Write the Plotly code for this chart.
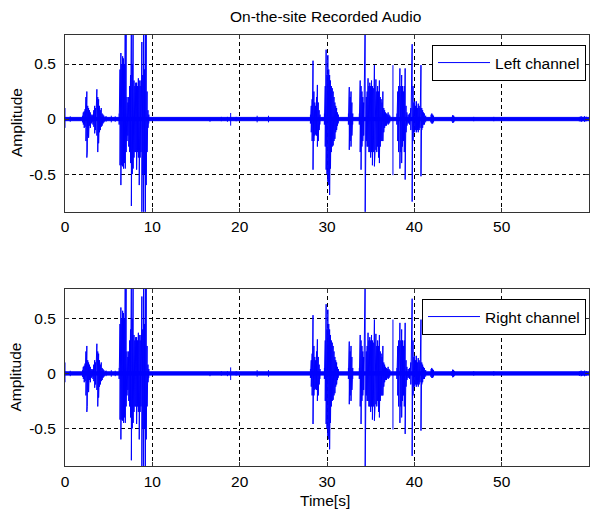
import plotly.graph_objects as go

# ---- data ----------------------------------------------------------------
# envelope of the waveform: time [s], upper peak and lower peak per time slot
TIME = [
    0.0, 0.6,
    2.0, 2.1, 2.2, 2.3, 2.4, 2.5, 2.55, 2.6, 2.7, 2.8, 2.9, 3.0, 3.1,
    3.2, 3.3, 3.4, 3.5, 3.65, 3.75, 3.85, 3.95, 4.05, 4.15, 4.25, 4.35, 4.45,
    4.7, 5.3, 5.75,
    6.2, 6.3, 6.4, 6.5, 6.6, 6.7, 6.8, 6.9, 7.0, 7.1, 7.2, 7.3, 7.4, 7.5,
    7.6, 7.7, 7.8, 7.9, 8.0, 8.1, 8.2, 8.3, 8.4, 8.5, 8.6, 8.7, 8.8, 8.9,
    9.0, 9.1, 9.2, 9.3, 9.4, 9.5, 9.6,
    16.6, 17.9, 18.6, 18.97, 19.6, 22.0, 23.3,
    28.1, 28.2, 28.3, 28.4, 28.5, 28.6, 28.7, 28.8, 28.9, 29.0, 29.1, 29.2,
    29.7, 29.8, 29.9, 30.0, 30.1, 30.2, 30.3, 30.4, 30.5, 30.6, 30.7, 30.8,
    30.9, 31.0, 31.1, 31.2, 31.3,
    32.45, 32.55, 32.65, 32.75, 32.85, 32.95,
    33.7, 33.8, 33.9, 34.0, 34.1, 34.2, 34.37, 34.5, 34.6, 34.7, 34.8, 34.9,
    35.0, 35.1, 35.2, 35.3, 35.43, 35.5, 35.6, 35.7, 35.8, 35.9, 36.0, 36.1,
    36.2, 36.3, 36.4, 36.5, 36.6, 36.7, 36.8, 36.9, 37.0, 37.1, 37.2,
    37.55,
    38.0, 38.1, 38.2, 38.35, 38.45, 38.55, 38.65, 38.75, 38.85, 38.95, 39.05,
    39.15, 39.3, 39.45, 39.6, 39.75, 39.85, 39.95, 40.05, 40.15, 40.25, 40.35,
    40.45, 40.55, 40.65, 40.76, 40.85, 40.95, 41.05, 41.15, 41.3,
    41.9, 42.0, 42.1, 42.2,
    44.3, 44.4, 44.5, 44.6,
    46.8, 49.1,
    58.9, 59.1, 59.3, 59.5, 59.7,
]
LEFT_UPPER = [
    0.10, 0.025,
    0.03, 0.06, 0.07, 0.09, 0.20, 0.25, 0.24, 0.12, 0.10, 0.08, 0.06, 0.04, 0.03,
    0.04, 0.08, 0.12, 0.10, 0.27, 0.20, 0.18, 0.12, 0.08, 0.10, 0.05, 0.04, 0.03,
    0.025, 0.03, 0.025,
    0.05, 0.45, 0.60, 0.50, 0.57, 0.55, 0.50, 0.90, 0.90, 0.20, 0.15, 0.20, 0.30, 0.40,
    0.90, 0.50, 0.90, 0.35, 0.30, 0.33, 0.33, 0.30, 0.37, 0.35, 0.30, 0.35, 0.70, 0.40,
    0.90, 0.45, 0.90, 0.90, 0.25, 0.08, 0.04,
    0.01, 0.02, 0.02, 0.055, 0.02, 0.03, 0.03,
    0.04, 0.12, 0.18, 0.53, 0.25, 0.15, 0.12, 0.20, 0.31, 0.15, 0.08, 0.04,
    0.05, 0.30, 0.63, 0.40, 0.58, 0.45, 0.40, 0.35, 0.30, 0.28, 0.25, 0.20,
    0.15, 0.12, 0.10, 0.06, 0.04,
    0.05, 0.29, 0.20, 0.25, 0.15, 0.05,
    0.05, 0.35, 0.30, 0.25, 0.20, 0.15, 0.90, 0.20, 0.25, 0.37, 0.30, 0.33,
    0.30, 0.35, 0.30, 0.28, 0.49, 0.30, 0.36, 0.25, 0.30, 0.25, 0.35, 0.20,
    0.18, 0.15, 0.25, 0.10, 0.08, 0.06, 0.05, 0.04, 0.06, 0.04, 0.03,
    0.49,
    0.05, 0.25, 0.30, 0.46, 0.30, 0.40, 0.30, 0.25, 0.30, 0.46, 0.12,
    0.06, 0.04, 0.05, 0.10, 0.68, 0.30, 0.15, 0.16, 0.12, 0.16, 0.10,
    0.14, 0.12, 0.10, 0.49, 0.10, 0.08, 0.06, 0.05, 0.03,
    0.04, 0.05, 0.04, 0.03,
    0.02, 0.035, 0.03, 0.02,
    0.02, 0.02,
    0.02, 0.025, 0.02, 0.025, 0.02,
]
LEFT_LOWER = [
    -0.08, -0.025,
    -0.03, -0.05, -0.08, -0.07, -0.20, -0.35, -0.30, -0.15, -0.17, -0.06, -0.08, -0.04, -0.03,
    -0.05, -0.07, -0.13, -0.10, -0.15, -0.30, -0.22, -0.12, -0.10, -0.07, -0.06, -0.04, -0.03,
    -0.025, -0.03, -0.025,
    -0.05, -0.42, -0.60, -0.42, -0.43, -0.45, -0.40, -0.45, -0.30, -0.20, -0.15, -0.25, -0.30, -0.40,
    -0.79, -0.50, -0.45, -0.35, -0.30, -0.30, -0.46, -0.30, -0.35, -0.60, -0.35, -0.30, -0.90, -0.50,
    -0.90, -0.50, -0.90, -0.60, -0.30, -0.08, -0.04,
    -0.025, -0.02, -0.025, -0.06, -0.02, -0.03, -0.03,
    -0.04, -0.12, -0.20, -0.46, -0.20, -0.15, -0.14, -0.15, -0.25, -0.20, -0.10, -0.05,
    -0.05, -0.25, -0.46, -0.50, -0.57, -0.60, -0.69, -0.45, -0.30, -0.25, -0.24, -0.20,
    -0.18, -0.12, -0.10, -0.06, -0.04,
    -0.05, -0.28, -0.20, -0.25, -0.15, -0.05,
    -0.05, -0.30, -0.46, -0.25, -0.20, -0.15, -0.90, -0.20, -0.25, -0.25, -0.30, -0.30,
    -0.35, -0.30, -0.42, -0.30, -0.43, -0.30, -0.28, -0.30, -0.25, -0.35, -0.40, -0.25,
    -0.20, -0.20, -0.20, -0.12, -0.08, -0.06, -0.06, -0.04, -0.05, -0.04, -0.03,
    -0.51,
    -0.05, -0.20, -0.30, -0.45, -0.30, -0.40, -0.25, -0.20, -0.30, -0.55, -0.12,
    -0.06, -0.04, -0.05, -0.10, -0.75, -0.20, -0.12, -0.12, -0.10, -0.12, -0.10,
    -0.12, -0.10, -0.08, -0.52, -0.10, -0.08, -0.05, -0.05, -0.03,
    -0.03, -0.04, -0.04, -0.03,
    -0.02, -0.035, -0.03, -0.02,
    -0.02, -0.02,
    -0.02, -0.025, -0.02, -0.025, -0.02,
]
# the right channel reads the same as the left one in the picture
RIGHT_UPPER = list(LEFT_UPPER)
RIGHT_LOWER = list(LEFT_LOWER)

NOISE_FLOOR = 0.015          # constant background hiss level
DURATION = 60.0              # length of the recording [s]
X_TICKS = [0, 10, 20, 30, 40, 50]
Y_TICKS = [-0.5, 0, 0.5]
Y_TICK_TEXT = ["-0.5", "0", "0.5"]
Y_RANGE = [-0.842, 0.768]

TITLE = "On-the-site Recorded Audio"
Y_LABEL = "Amplitude"
X_LABEL = "Time[s]"
NAMES = ["Left channel", "Right channel"]

# ---- build figure ---------------------------------------------------------
BLUE = "#0000ff"
FONT = "Liberation Sans, Arial, sans-serif"
FS = 15.5
GAP = 0.25  # break the stroke between separated events


def zigzag(t, hi, lo):
    xs, ys = [], []
    for i in range(len(t)):
        xs += [t[i], t[i]]
        ys += [hi[i], lo[i]]
        if i + 1 < len(t) and t[i + 1] - t[i] > GAP:
            xs.append(None)
            ys.append(None)
    return xs, ys


fig = go.Figure()
channels = [(LEFT_UPPER, LEFT_LOWER), (RIGHT_UPPER, RIGHT_LOWER)]
for k, (hi, lo) in enumerate(channels):
    xa = "x" if k == 0 else "x2"
    ya = "y" if k == 0 else "y2"
    lg = "legend" if k == 0 else "legend2"
    # background hiss band
    fig.add_trace(go.Scatter(
        x=[0, DURATION, DURATION, 0, 0],
        y=[NOISE_FLOOR, NOISE_FLOOR, -NOISE_FLOOR, -NOISE_FLOOR, NOISE_FLOOR],
        fill="toself", fillcolor=BLUE, mode="lines",
        line=dict(color=BLUE, width=1), hoverinfo="skip",
        showlegend=False, xaxis=xa, yaxis=ya))
    xs, ys = zigzag(TIME, hi, lo)
    fig.add_trace(go.Scatter(
        x=xs, y=ys, mode="lines", name=NAMES[k],
        line=dict(color=BLUE, width=1), connectgaps=False,
        showlegend=True, legend=lg, xaxis=xa, yaxis=ya))

axis_common = dict(
    showline=True, linecolor="#333333", linewidth=1, mirror="ticks",
    ticks="inside", ticklen=4, tickcolor="#333333",
    showgrid=True, gridcolor="#000000", gridwidth=1, griddash="4px,3px",
    zeroline=False, tickfont=dict(family=FONT, size=FS, color="#000000"),
)

legend_common = dict(
    xanchor="right", yanchor="top", itemwidth=52,
    bgcolor="white", bordercolor="#000000", borderwidth=1,
    font=dict(family=FONT, size=FS, color="#000000"),
)

fig.update_layout(
    width=590, height=513,
    margin=dict(l=65, r=1, t=0, b=0),
    paper_bgcolor="white", plot_bgcolor="white",
    font=dict(family=FONT, size=FS, color="#000000"),
    xaxis=dict(domain=[0, 1], anchor="y", range=[0, DURATION],
               tickvals=X_TICKS, ticktext=[str(v) for v in X_TICKS],
               ticklabelstandoff=1, **axis_common),
    yaxis=dict(domain=[0.5873, 0.9327], anchor="x", range=Y_RANGE,
               tickvals=Y_TICKS, ticktext=Y_TICK_TEXT,
               ticklabelstandoff=5, **axis_common),
    xaxis2=dict(domain=[0, 1], anchor="y2", range=[0, DURATION],
                tickvals=X_TICKS, ticktext=[str(v) for v in X_TICKS],
                ticklabelstandoff=1, **axis_common),
    yaxis2=dict(domain=[0.0916, 0.4366], anchor="x2", range=Y_RANGE,
                tickvals=Y_TICKS, ticktext=Y_TICK_TEXT,
                ticklabelstandoff=5, **axis_common),
    legend=dict(x=0.9943, y=0.9123, **legend_common),
    legend2=dict(x=0.9943, y=0.4172, **legend_common),
    annotations=[
        dict(text=TITLE, x=0.4973, y=0.9669, xref="paper", yref="paper",
             showarrow=False, xanchor="center", yanchor="middle",
             font=dict(family=FONT, size=FS, color="#000000")),
        dict(text=Y_LABEL, x=-0.0935, y=0.7602, xref="paper", yref="paper",
             showarrow=False, textangle=-90, xanchor="center", yanchor="middle",
             font=dict(family=FONT, size=FS, color="#000000")),
        dict(text=Y_LABEL, x=-0.0935, y=0.2641, xref="paper", yref="paper",
             showarrow=False, textangle=-90, xanchor="center", yanchor="middle",
             font=dict(family=FONT, size=FS, color="#000000")),
        dict(text=X_LABEL, x=0.496, y=0.0234, xref="paper", yref="paper",
             showarrow=False, xanchor="center", yanchor="middle",
             font=dict(family=FONT, size=FS, color="#000000")),
    ],
)

fig.write_html("out.html")
